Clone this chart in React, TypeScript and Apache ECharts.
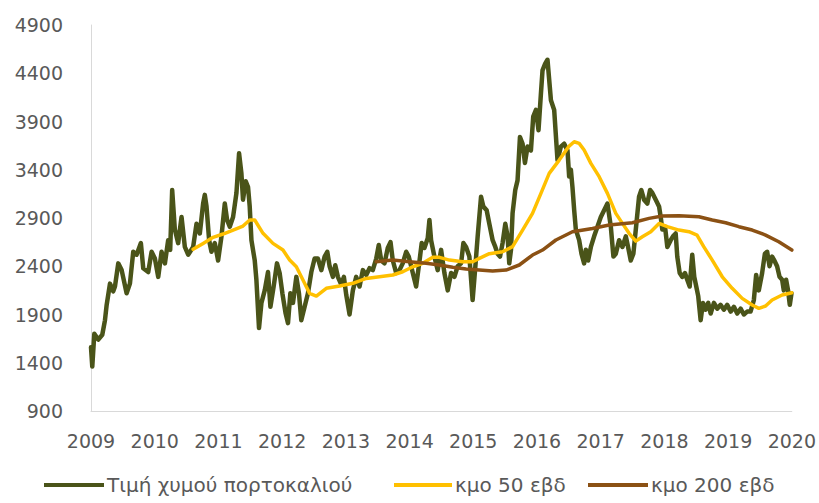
import React, { useEffect, useRef } from "react";
import * as echarts from "echarts";

const years = [2009, 2010, 2011, 2012, 2013, 2014, 2015, 2016, 2017, 2018, 2019, 2020];
const yTicks = [900, 1400, 1900, 2400, 2900, 3400, 3900, 4400, 4900];
const seriesNames = ["Τιμή χυμού πορτοκαλιού", "κμο 50 εβδ", "κμο 200 εβδ"];
const seriesColors = ["#4A5419", "#FFC000", "#8B5114"];

// [year, value]
const price: number[][] = [
  [2009.0, 1560], [2009.02, 1360], [2009.052, 1700], [2009.114, 1640], [2009.177, 1690],
  [2009.219, 1840], [2009.246, 2000], [2009.298, 2220], [2009.349, 2140], [2009.376, 2190],
  [2009.428, 2430], [2009.481, 2360], [2009.559, 2120], [2009.611, 2220], [2009.663, 2550],
  [2009.716, 2520], [2009.783, 2640], [2009.82, 2380], [2009.898, 2340], [2009.951, 2550],
  [2010.003, 2480], [2010.055, 2290], [2010.108, 2550], [2010.16, 2430], [2010.211, 2670],
  [2010.243, 2570], [2010.274, 3190], [2010.316, 2780], [2010.368, 2640], [2010.421, 2910],
  [2010.473, 2600], [2010.525, 2520], [2010.603, 2600], [2010.656, 2840], [2010.708, 2740],
  [2010.76, 3050], [2010.786, 3140], [2010.813, 3020], [2010.854, 2670], [2010.891, 2550],
  [2010.943, 2640], [2010.995, 2460], [2011.048, 2710], [2011.1, 3050], [2011.136, 2880],
  [2011.178, 2810], [2011.23, 2910], [2011.283, 3160], [2011.324, 3570], [2011.361, 3360],
  [2011.386, 3090], [2011.429, 3280], [2011.465, 3220], [2011.491, 3020], [2011.518, 2670],
  [2011.57, 2460], [2011.596, 2260], [2011.637, 1760], [2011.675, 2020], [2011.727, 2150],
  [2011.778, 2340], [2011.816, 1980], [2011.867, 2190], [2011.919, 2430], [2011.961, 2330],
  [2012.004, 2120], [2012.055, 1910], [2012.092, 1810], [2012.129, 2120], [2012.17, 2020],
  [2012.223, 2290], [2012.264, 2120], [2012.301, 1840], [2012.353, 1980], [2012.405, 2120],
  [2012.458, 2340], [2012.51, 2480], [2012.562, 2480], [2012.615, 2360], [2012.667, 2500],
  [2012.709, 2550], [2012.745, 2400], [2012.797, 2290], [2012.834, 2410], [2012.875, 2290],
  [2012.928, 2210], [2012.969, 2290], [2013.007, 2100], [2013.058, 1900], [2013.11, 2150],
  [2013.163, 2290], [2013.215, 2190], [2013.267, 2360], [2013.32, 2310], [2013.372, 2380],
  [2013.423, 2360], [2013.477, 2480], [2013.517, 2620], [2013.555, 2460], [2013.607, 2430],
  [2013.658, 2590], [2013.701, 2650], [2013.737, 2460], [2013.79, 2330], [2013.842, 2360],
  [2013.893, 2430], [2013.947, 2550], [2013.987, 2500], [2014.025, 2400], [2014.077, 2260],
  [2014.103, 2190], [2014.155, 2450], [2014.191, 2640], [2014.233, 2590], [2014.285, 2690],
  [2014.312, 2880], [2014.338, 2670], [2014.39, 2500], [2014.442, 2360], [2014.495, 2570],
  [2014.547, 2330], [2014.599, 2150], [2014.652, 2330], [2014.704, 2290], [2014.755, 2400],
  [2014.809, 2430], [2014.845, 2640], [2014.887, 2600], [2014.939, 2500], [2014.99, 2050],
  [2015.033, 2400], [2015.069, 2710], [2015.122, 3120], [2015.158, 3020], [2015.21, 2980],
  [2015.252, 2840], [2015.304, 2670], [2015.346, 2600], [2015.382, 2530], [2015.42, 2500],
  [2015.46, 2640], [2015.503, 2840], [2015.539, 2710], [2015.565, 2430], [2015.592, 2570],
  [2015.617, 2950], [2015.659, 3190], [2015.695, 3290], [2015.733, 3740], [2015.774, 3670],
  [2015.811, 3470], [2015.852, 3640], [2015.905, 3600], [2015.941, 3950], [2015.984, 4020],
  [2016.024, 3810], [2016.062, 4190], [2016.087, 4430], [2016.129, 4500], [2016.165, 4540],
  [2016.219, 4120], [2016.27, 4020], [2016.322, 3500], [2016.375, 3640], [2016.427, 3670],
  [2016.479, 3600], [2016.505, 3330], [2016.532, 3400], [2016.557, 3220], [2016.584, 2980],
  [2016.61, 2780], [2016.662, 2670], [2016.698, 2530], [2016.74, 2430], [2016.767, 2570],
  [2016.803, 2460], [2016.846, 2600], [2016.897, 2710], [2016.949, 2810], [2017.002, 2910],
  [2017.054, 2980], [2017.106, 3050], [2017.159, 2810], [2017.2, 2500], [2017.237, 2530],
  [2017.289, 2670], [2017.341, 2600], [2017.394, 2710], [2017.43, 2600], [2017.472, 2460],
  [2017.513, 2530], [2017.566, 2880], [2017.602, 3120], [2017.638, 3190], [2017.68, 3090],
  [2017.732, 3050], [2017.775, 3190], [2017.811, 3160], [2017.864, 3090], [2017.916, 3020],
  [2017.942, 2910], [2017.967, 2780], [2018.01, 2810], [2018.046, 2600], [2018.099, 2670],
  [2018.135, 2710], [2018.177, 2740], [2018.202, 2500], [2018.24, 2330], [2018.281, 2290],
  [2018.323, 2330], [2018.359, 2260], [2018.397, 2190], [2018.437, 2520], [2018.469, 2290],
  [2018.5, 2190], [2018.531, 2090], [2018.569, 1840], [2018.605, 2020], [2018.647, 1950],
  [2018.688, 2020], [2018.726, 1910], [2018.777, 2020], [2018.829, 1960], [2018.882, 2000],
  [2018.934, 1950], [2018.986, 2000], [2019.039, 1930], [2019.091, 1980], [2019.143, 1910],
  [2019.196, 1960], [2019.247, 1900], [2019.299, 1930], [2019.352, 1930], [2019.404, 2050],
  [2019.44, 2310], [2019.482, 2150], [2019.534, 2330], [2019.577, 2530], [2019.613, 2550],
  [2019.65, 2400], [2019.691, 2500], [2019.733, 2450], [2019.769, 2400], [2019.807, 2290],
  [2019.848, 2260], [2019.874, 2150], [2019.91, 2260], [2019.941, 2150], [2019.968, 2000],
  [2019.995, 2120],
];

const ma50: number[][] = [
  [2010.603, 2575], [2010.76, 2637], [2010.916, 2700], [2011.073, 2734], [2011.23, 2775],
  [2011.386, 2817], [2011.491, 2879], [2011.57, 2879], [2011.7, 2741], [2011.856, 2637],
  [2012.013, 2568], [2012.118, 2464], [2012.223, 2395], [2012.327, 2257], [2012.432, 2119],
  [2012.537, 2091], [2012.693, 2171], [2012.902, 2195], [2013.11, 2223], [2013.32, 2274],
  [2013.528, 2291], [2013.737, 2309], [2013.893, 2343], [2014.05, 2395], [2014.207, 2430],
  [2014.364, 2492], [2014.469, 2492], [2014.625, 2464], [2014.834, 2447], [2014.99, 2447],
  [2015.095, 2482], [2015.252, 2530], [2015.46, 2550], [2015.617, 2603], [2015.774, 2775],
  [2015.93, 2948], [2016.062, 3155], [2016.192, 3362], [2016.349, 3500], [2016.505, 3645],
  [2016.584, 3690], [2016.662, 3673], [2016.74, 3604], [2016.846, 3466], [2016.976, 3328],
  [2017.106, 3155], [2017.237, 2948], [2017.341, 2844], [2017.446, 2741], [2017.551, 2660],
  [2017.654, 2706], [2017.786, 2758], [2017.916, 2844], [2018.046, 2810], [2018.229, 2775],
  [2018.386, 2758], [2018.512, 2723], [2018.617, 2603], [2018.751, 2464], [2018.908, 2291],
  [2019.064, 2171], [2019.221, 2067], [2019.378, 1998], [2019.482, 1964], [2019.588, 1988],
  [2019.691, 2050], [2019.848, 2102], [2020.0, 2125],
];

const ma200: number[][] = [
  [2013.477, 2447], [2013.737, 2464], [2013.998, 2447], [2014.26, 2430], [2014.469, 2413],
  [2014.677, 2389], [2014.887, 2371], [2015.095, 2361], [2015.304, 2350], [2015.514, 2361],
  [2015.722, 2413], [2015.93, 2516], [2016.087, 2568], [2016.297, 2672], [2016.557, 2758],
  [2016.871, 2792], [2017.132, 2827], [2017.497, 2851], [2017.759, 2896], [2017.967, 2920],
  [2018.229, 2924], [2018.542, 2913], [2018.751, 2879], [2018.961, 2851], [2019.169, 2810],
  [2019.378, 2775], [2019.588, 2723], [2019.795, 2654], [2020.0, 2568],
];

const seriesData = [price, ma50, ma200];
const lineWidths = [4.5, 3.5, 3.5];

export default function App() {
  const ref = useRef<HTMLDivElement>(null);
  useEffect(() => {
    const chart = echarts.init(ref.current as HTMLDivElement, null, { renderer: "svg" });
    const font = "DejaVu Sans";
    const textColor = "#595959";
    const legendPos = [
      { left: 44, width: 60 },
      { left: 394, width: 58 },
      { left: 588, width: 60 },
    ];
    chart.setOption({
      animation: false,
      backgroundColor: "#ffffff",
      textStyle: { fontFamily: font },
      grid: { left: 91, right: 26, top: 25, bottom: 92, containLabel: false },
      xAxis: {
        type: "value",
        min: 2009,
        max: 2020,
        axisLine: { show: true, onZero: false, lineStyle: { color: "#D9D9D9", width: 1 } },
        axisTick: { show: false },
        splitLine: { show: false },
        axisLabel: {
          customValues: years,
          formatter: (v: number) => String(v),
          color: textColor,
          fontSize: 19,
          fontFamily: font,
          margin: 20,
        },
      },
      yAxis: {
        type: "value",
        min: 900,
        max: 4900,
        axisLine: { show: true, lineStyle: { color: "#D9D9D9", width: 1 } },
        axisTick: { show: false },
        splitLine: { show: false },
        axisLabel: {
          customValues: yTicks,
          formatter: (v: number) => String(v),
          color: textColor,
          fontSize: 19,
          fontFamily: font,
          margin: 28,
        },
      },
      legend: seriesNames.map((n, i) => ({
        data: [n],
        left: legendPos[i].left,
        top: 475,
        padding: 0,
        icon: "rect",
        itemWidth: legendPos[i].width,
        itemHeight: 4,
        textStyle: { color: textColor, fontSize: 20, fontFamily: font, padding: [0, 0, 0, -2] },
      })),
      series: seriesNames.map((n, i) => ({
        name: n,
        type: "line",
        data: seriesData[i],
        showSymbol: false,
        symbol: "none",
        color: seriesColors[i],
        itemStyle: { color: seriesColors[i] },
        lineStyle: { color: seriesColors[i], width: lineWidths[i], cap: "round", join: "round" },
        z: 2 + i,
      })),
    });
    return () => chart.dispose();
  }, []);
  return (
    <div
      ref={ref}
      style={{ position: "fixed", left: 0, top: 0, width: 819, height: 503 }}
    />
  );
}
